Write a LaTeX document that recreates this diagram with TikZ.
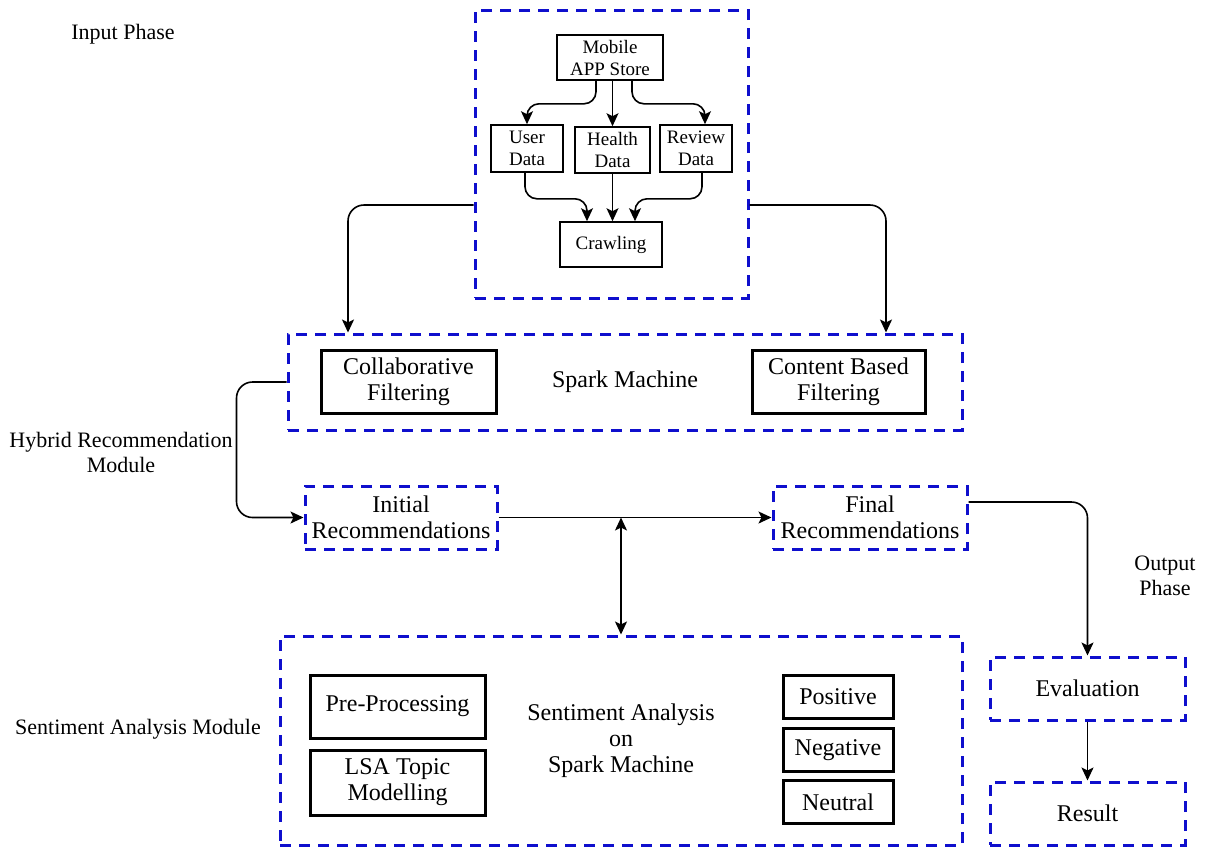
\documentclass[tikz,border=0pt]{standalone}
\usepackage{fontspec}
\setmainfont{Liberation Serif}
\newfontfamily\boxfont{Liberation Serif}
\usepackage{tikz}
\usetikzlibrary{shapes,arrows,arrows.meta}

\definecolor{dashblue}{RGB}{15,15,205}

\begin{document}
\begin{tikzpicture}[
        x=0.5pt, y=-0.5pt,
        >={Stealth[length=6.5pt,width=6pt,inset=1.5pt]},
        phase/.style={draw=dashblue, line width=1.5pt, dash pattern=on 5.5pt off 4pt, inner sep=0pt, align=center, font=\boxfont\fontsize{12}{13}\selectfont},
        srcbox/.style={draw, line width=0.8pt, inner sep=0pt, align=center, font=\boxfont\fontsize{9.5}{11}\selectfont},
        stagebox/.style={draw, line width=1.5pt, inner sep=0pt, align=center, font=\boxfont\fontsize{12}{13}\selectfont},
        tag/.style={align=center, font=\boxfont\fontsize{11}{12.5}\selectfont},
        flow/.style={->, line width=0.8pt},
    ]
    \useasboundingbox (0,0) rectangle (1205,848);

    %Draw the dashed phase boxes
    \node [phase, minimum width=136.5pt, minimum height=144pt] (inbox) at (611.5,154) {};
    \node [phase, minimum width=337pt, minimum height=48pt] (spark) at (625,382) {Spark Machine};
    \node [phase, minimum width=96pt, minimum height=31.5pt] (init) at (401,517.5) {Initial\\Recommendations};
    \node [phase, minimum width=97pt, minimum height=31.5pt] (final) at (870,517.5) {Final\\Recommendations};
    \node [phase, minimum width=341pt, minimum height=104.5pt] (sa) at (621,740.5) {Sentiment Analysis\\on\\Spark Machine};
    \node [phase, minimum width=97.5pt, minimum height=31.5pt] (eval) at (1087.5,688.5) {Evaluation};
    \node [phase, minimum width=97.5pt, minimum height=31.5pt] (result) at (1087.5,813.5) {Result};

    %Draw the input phase boxes
    \node [srcbox, minimum width=53pt, minimum height=22.5pt] (store) at (610,57.5) {Mobile\\APP Store};
    \node [srcbox, minimum width=36pt, minimum height=23.5pt] (user) at (527,148.5) {User\\Data};
    \node [srcbox, minimum width=37.5pt, minimum height=23pt] (health) at (612.5,150) {Health\\Data};
    \node [srcbox, minimum width=36pt, minimum height=23.5pt] (review) at (696,148.5) {Review\\Data};
    \node [srcbox, minimum width=51pt, minimum height=22.5pt] (crawl) at (611,244.5) {Crawling};

    %Draw the filtering and sentiment boxes
    \node [stagebox, minimum width=87.5pt, minimum height=31.5pt] (collab) at (408.5,381.5) {Collaborative\\Filtering};
    \node [stagebox, minimum width=86.5pt, minimum height=31.5pt] (content) at (838.5,381.5) {Content Based\\Filtering};
    \node [stagebox, minimum width=87.5pt, minimum height=31.5pt] (prep) at (397.5,706.5) {Pre-Processing};
    \node [stagebox, minimum width=87.5pt, minimum height=32.5pt] (lsa) at (397.5,782.5) {LSA Topic\\Modelling};
    \node [stagebox, minimum width=55pt, minimum height=21.5pt] (pos) at (838,696.5) {Positive};
    \node [stagebox, minimum width=55pt, minimum height=21.5pt] (neg) at (838,750) {Negative};
    \node [stagebox, minimum width=55pt, minimum height=21.5pt] (neu) at (838,802) {Neutral};

    %Draw the phase labels
    \node [tag] (intag) at (123,34) {Input Phase};
    \node [tag] (hybtag) at (121,452) {Hybrid Recommendation\\Module};
    \node [tag] (outtag) at (1165,576) {Output\\Phase};
    \node [tag] (satag) at (138,729) {Sentiment Analysis Module};

    %Draw the arrows inside the input phase
    \draw [flow, rounded corners=6pt] ([xshift=-7pt]store.south) -- ++(0,-11.5pt) -| (user.north);
    \draw [flow] (health.north |- store.south) -- (health.north);
    \draw [flow, rounded corners=6pt] ([xshift=11pt]store.south) -- ++(0,-11.5pt) -| ([xshift=4.5pt]review.north);
    \draw [flow, rounded corners=6pt] ([xshift=-1pt]user.south) -- ++(0,-13pt) -| ([xshift=-12pt]crawl.north);
    \draw [flow] (health.south) -- (health.south |- crawl.north);
    \draw [flow, rounded corners=6pt] ([xshift=3pt]review.south) -- ++(0,-13pt) -| ([xshift=12pt]crawl.north);

    %Draw the arrows between the phases
    \draw [flow, rounded corners=8pt] ([yshift=-25.5pt]inbox.west) -| ([xshift=-138.5pt]spark.north);
    \draw [flow, rounded corners=8pt] ([yshift=-25.5pt]inbox.east) -| ([xshift=130.5pt]spark.north);
    \draw [flow, rounded corners=8pt] (spark.west) -- ++(-25pt,0) |- (init.west);
    \draw [flow] (init.east) -- (final.west);
    \draw [flow, <->] (sa.north) -- (sa.north |- init.east);
    \draw [flow, rounded corners=8pt] ([yshift=7.75pt]final.east) -| (eval.north);
    \draw [flow] (eval.south) -- (result.north);
\end{tikzpicture}
\end{document}
